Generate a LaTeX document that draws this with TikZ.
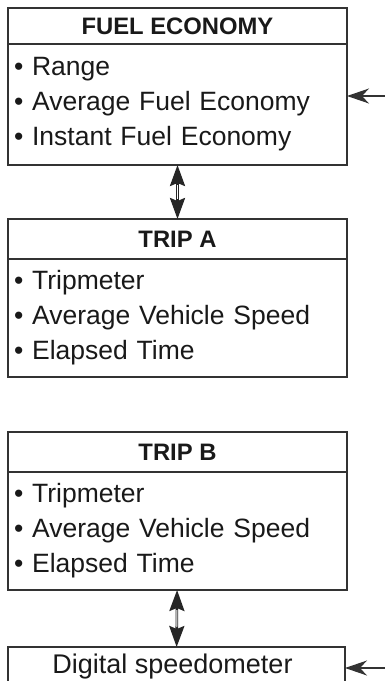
\documentclass[tikz,border=0pt]{standalone}
\usepackage{fontspec}
\setmainfont{Liberation Sans}
\usetikzlibrary{arrows.meta,positioning}

\begin{document}
\begin{tikzpicture}[
  x=1pt,y=1pt,
  node distance=54pt,
  head/.style={draw=black!80,line width=1.3pt,outer sep=0pt,minimum width=339pt,minimum height=40pt,
    text=black!90,font=\fontsize{23.8}{28}\selectfont\bfseries},
  body/.style={draw=black!80,line width=1.3pt,outer sep=0pt,minimum width=339pt,text width=327pt,
    inner xsep=6pt,minimum height=118pt,align=left,text=black!90,font=\fontsize{26.5}{35}\selectfont},
  link/.style={black!85,line width=2.6pt,
    {Stealth[length=21pt,width=15pt,inset=3pt]}-{Stealth[length=21pt,width=15pt,inset=3pt]}},
  slot/.style={white,line width=.9pt,shorten >=20pt,shorten <=20pt},
  feed/.style={black!80,line width=1.1pt,-{Stealth[length=22pt,width=15pt,inset=7pt]}}
]
  \useasboundingbox (0,0) rectangle (385,-681);

  \node[head,minimum height=36pt] (fuelhead) at (177.5,-26) {FUEL ECONOMY};
  \node[body,minimum height=121pt,below=0pt of fuelhead] (fuelbody)
    {• Range\\• Average Fuel Economy\\• Instant Fuel Economy};

  \node[head,below=of fuelbody] (tripahead) {TRIP A};
  \node[body,below=0pt of tripahead] (tripabody)
    {• Tripmeter\\• Average Vehicle Speed\\• Elapsed Time};

  \node[head,below=55pt of tripabody] (tripbhead) {TRIP B};
  \node[body,below=0pt of tripbhead] (tripbbody)
    {• Tripmeter\\• Average Vehicle Speed\\• Elapsed Time};

  \node[head,font=\fontsize{27}{30}\selectfont,minimum width=337pt,below=57pt of tripbbody,
    xshift=-1pt] (speedo) {Digital speedometer\hspace*{8pt}};

  % up/down links with a hollow shaft
  \draw[link] (fuelbody) -- (tripahead);
  \draw[slot] (fuelbody) -- (tripahead);
  \draw[link] (tripbbody) -- (speedo);
  \draw[slot] (tripbbody) -- (speedo);

  \coordinate (fuelin) at (385,-96);
  \coordinate (speedin) at (385,-668);
  \draw[feed] (fuelin) -- (fuelin -| fuelbody.east);
  \draw[feed] (speedin) -- (speedin -| speedo.east);
\end{tikzpicture}
\end{document}
